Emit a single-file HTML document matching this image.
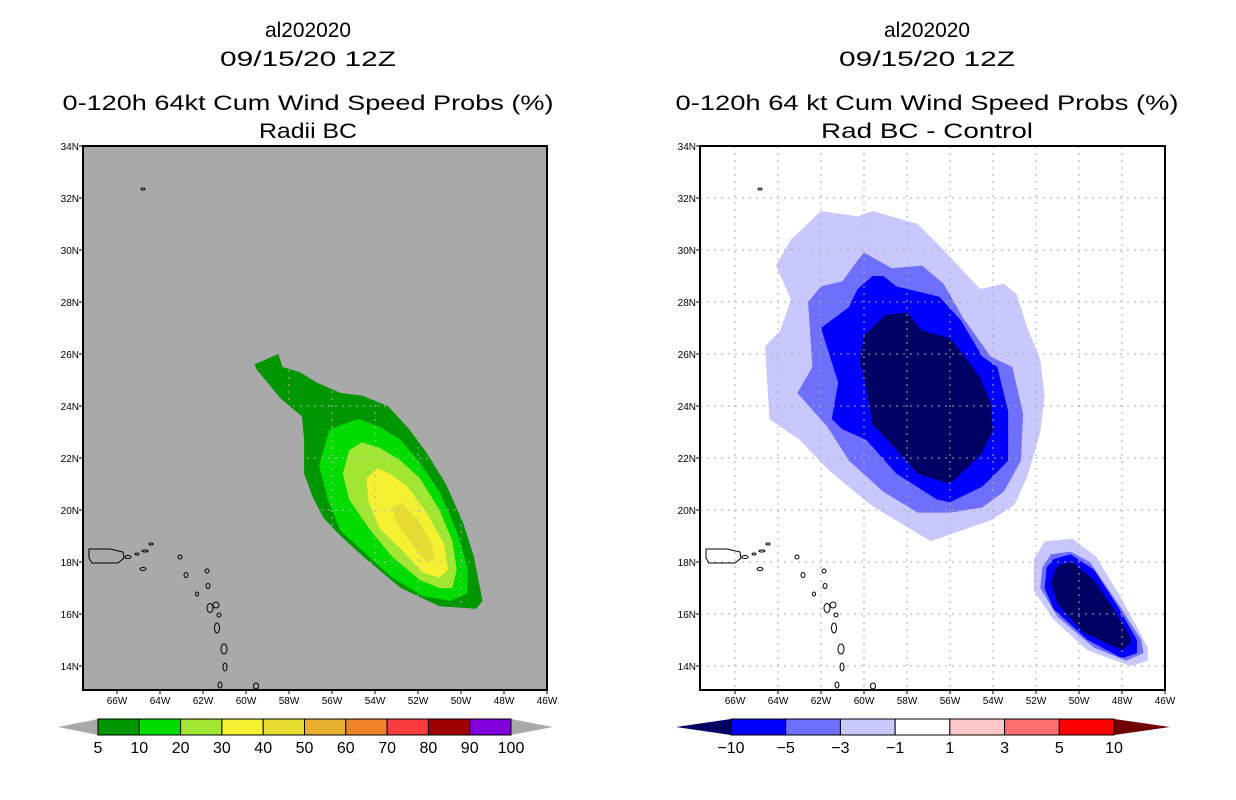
<!DOCTYPE html>
<html><head><meta charset="utf-8">
<style>
html,body{margin:0;padding:0;background:#fff;}
svg{display:block;font-family:"Liberation Sans",sans-serif;}
</style></head>
<body>
<svg id="c" width="1236" height="800" viewBox="0 0 1236 800" xmlns="http://www.w3.org/2000/svg"></svg>
<script>
// ---- data: contour polygons as [lonW, latN]
const leftLevels = ["5","10","20","30","40"];
const leftColors = ["#009600","#00dc00","#a0e632","#f5f032","#e6dc32"];
const left5 = [[59.6,25.6],[58.5,26.0],[58.3,25.5],[57.5,25.3],[56.7,24.9],[55.6,24.5],[54.6,24.4],[53.4,24.0],[52.4,23.1],[51.6,22.2],[50.7,21.0],[49.9,19.5],[49.4,18.2],[49.0,16.5],[49.3,16.2],[51.0,16.3],[52.8,17.0],[54.4,18.1],[55.6,19.0],[56.4,19.7],[56.9,20.5],[57.3,21.4],[57.3,22.7],[57.4,23.6],[58.4,24.3],[59.5,25.4]];
const left10 = [[56.1,23.1],[54.8,23.5],[53.8,23.2],[52.8,22.7],[51.9,21.8],[51.0,20.7],[50.2,19.2],[49.7,17.8],[49.7,16.8],[50.5,16.5],[51.8,16.7],[53.2,17.4],[54.4,18.3],[55.6,19.2],[56.2,20.4],[56.6,21.7],[56.3,22.6]];
const left20 = [[55.2,22.3],[54.6,22.6],[53.8,22.4],[52.8,21.9],[51.9,21.2],[51.0,20.0],[50.4,18.8],[50.2,17.7],[50.4,17.0],[51.0,17.0],[51.9,17.3],[53.2,18.2],[54.2,19.2],[55.2,20.4],[55.5,21.4]];
const left30 = [[54.4,21.2],[53.9,21.6],[53.3,21.4],[52.5,20.9],[51.6,19.9],[50.8,18.7],[50.6,17.7],[51.0,17.4],[51.8,17.6],[52.8,18.5],[53.8,19.3],[54.3,20.3]];
const left40 = [[53.2,20.1],[52.8,20.3],[52.0,19.6],[51.4,18.8],[51.2,18.1],[51.6,18.0],[52.2,18.6],[53.0,19.5]];

const rightLevels = ["-1","-3","-5","-10"];
const rightColors = ["#c8c8ff","#6e6eff","#0000ff","#000064"];
const rightA1 = [[62.0,31.5],[60.3,31.3],[59.6,31.5],[57.5,31.0],[56.3,30.0],[54.6,28.5],[53.5,28.7],[52.9,28.3],[52.4,27.0],[51.8,25.8],[51.6,24.4],[51.8,23.0],[52.4,21.3],[53.0,20.2],[54.1,19.6],[55.5,19.2],[56.9,18.8],[58.1,19.4],[59.7,20.2],[61.6,21.5],[63.0,22.7],[64.4,23.5],[64.6,26.3],[63.9,26.9],[63.4,28.1],[64.1,29.4],[63.4,30.4]];
const rightA3 = [[60.0,29.9],[58.7,29.3],[57.3,29.4],[56.3,28.7],[55.4,27.4],[54.1,25.9],[53.1,25.5],[52.6,23.7],[52.7,21.9],[53.5,20.7],[54.5,20.1],[56.0,19.9],[57.5,19.9],[59.1,20.7],[60.7,21.9],[61.7,23.2],[63.1,24.5],[62.4,25.5],[62.6,28.0],[62.0,28.6],[61.0,28.8],[60.3,29.6]];
const rightA5 = [[59.6,29.0],[59.1,29.0],[58.5,28.6],[56.5,28.2],[55.5,27.3],[54.5,25.9],[53.8,25.5],[53.3,23.8],[53.3,21.9],[54.0,21.3],[54.5,20.9],[56.0,20.3],[56.6,20.4],[58.5,21.4],[59.9,22.7],[61.0,23.1],[61.5,23.5],[61.2,24.9],[62.0,27.0],[60.7,27.8],[60.3,28.5]];
const rightA10 = [[59.0,27.5],[58.0,27.6],[57.3,26.9],[56.0,26.6],[55.4,26.0],[54.6,25.1],[54.1,24.1],[54.0,23.1],[54.5,22.2],[55.1,21.7],[56.0,21.0],[57.5,21.4],[58.8,22.6],[59.6,23.3],[59.9,24.7],[60.2,25.8],[60.0,26.7]];
const rightB1 = [[51.6,18.8],[50.3,18.9],[49.2,18.2],[48.1,16.7],[47.3,15.5],[46.8,14.7],[46.8,14.2],[47.6,14.0],[49.6,14.6],[51.2,15.8],[52.1,16.9],[52.1,18.1]];
const rightB3 = [[51.3,18.3],[50.4,18.4],[49.5,18.0],[48.1,16.3],[47.1,15.0],[47.0,14.5],[47.8,14.2],[49.3,14.7],[51.0,15.9],[51.8,17.0],[51.7,17.8]];
const rightB5 = [[51.2,18.1],[50.4,18.3],[49.3,17.7],[48.2,16.3],[47.3,15.0],[47.3,14.5],[48.0,14.3],[49.6,15.0],[51.2,16.2],[51.6,17.0],[51.5,17.8]];
const rightB10 = [[50.9,17.9],[50.3,18.0],[49.3,17.3],[48.4,16.2],[47.6,15.1],[47.6,14.9],[48.0,14.6],[49.8,15.3],[51.0,16.4],[51.3,17.2],[51.1,17.7]];

const lonTicks = [66,64,62,60,58,56,54,52,50,48,46];
const latTicks = [34,32,30,28,26,24,22,20,18,16,14];
const leftBarLabels = ["5","10","20","30","40","50","60","70","80","90","100"];
const leftBarColors = ["#009600","#00dc00","#a0e632","#f5f032","#e6dc32","#e6af2d","#f08228","#fa3c3c","#a00000","#8200dc"];
const rightBarLabels = ["-10","-5","-3","-1","1","3","5","10"];
const rightBarColors = ["#0000ff","#6e6eff","#c8c8ff","#ffffff","#ffc8c8","#ff6e6e","#ff0000"];

const NS="http://www.w3.org/2000/svg";
const svg=document.getElementById('c');
function mk(tag,attrs,parent){const e=document.createElementNS(NS,tag);for(const k in attrs)e.setAttribute(k,attrs[k]);(parent||svg).appendChild(e);return e;}

const TOP=146,BOT=690,PXLAT=26,PXLON=21.5;
function panel(x0,x1){return {x0,x1,fx:lon=>x1-(lon-46)*PXLON,fy:lat=>TOP+(34-lat)*PXLAT};}
const P1=panel(83,547), P2=panel(700,1165);

function pathD(P,pts){return pts.map((p,i)=>(i?'L':'M')+P.fx(p[0]).toFixed(1)+' '+P.fy(p[1]).toFixed(1)).join(' ')+'Z';}
function poly(P,pts,fill,name,g){
  const e=mk('path',{d:pathD(P,pts),fill},g);
  
  
}
function txt(x,y,s,size,anchor,name,len){
  const e=mk('text',{x,y,'font-size':size,'text-anchor':anchor||'middle',fill:'#000'});
  if(len){e.setAttribute('textLength',len);e.setAttribute('lengthAdjust','spacingAndGlyphs');}
  e.textContent=s;
  
  
  return e;
}
function drawIslands(P,g){
  const dx=P.x0-83;
  const pr=mk('path',{d:'M'+(89+dx)+' 549 L'+(110+dx)+' 549 L'+(123+dx)+' 552 L'+(124+dx)+' 558 L'+(118+dx)+' 563 L'+(92+dx)+' 563 L'+(89+dx)+' 558 Z',fill:'none',stroke:'#000','stroke-width':1},g);
  
  
  const small=[[128,557,3,1.5],[137,554,2,1],[145,551,3,1],[151,544,2,1],[143,569,3,1.5],[180,557,2,2],[186,575,2,2.5],[207,571,2,2],[197,594,1.5,2],[208,586,2,2.5],[210,608,3,4.5],[216,605,3,3],[219,615,2,2],[217,628,2.5,5],[224,649,3,5],[225,667,2,4],[220,685,2,3],[256,686,2.5,3],[143,189,2,1]];
  small.forEach(s=>{
    const e=mk('ellipse',{cx:s[0]+dx,cy:s[1],rx:s[2],ry:s[3],fill:'none',stroke:'#000','stroke-width':1},g);
    
    
  });
}

function drawPanel(P,bg,gridColor,layers,titleLines,name,gridClipPts){
  const g=mk('g',{});
  
  
  const clipId='clip'+P.x0;
  const cp=mk('clipPath',{id:clipId},g);
  mk('rect',{x:P.x0,y:TOP,width:P.x1-P.x0,height:BOT-TOP},cp);
  const bgr=mk('rect',{x:P.x0,y:TOP,width:P.x1-P.x0,height:BOT-TOP,fill:bg},g);
  
  
  const inner=mk('g',{'clip-path':'url(#'+clipId+')'},g);
  layers.forEach(l=>poly(P,l[0],l[1],l[2],inner));
  let gridG=inner;
  if(gridClipPts){
    const gid='gclip'+P.x0;
    const gc=mk('clipPath',{id:gid},g);
    mk('path',{d:pathD(P,gridClipPts)},gc);
    gridG=mk('g',{'clip-path':'url(#'+gid+')'},inner);
  }
  lonTicks.forEach(lon=>{const x=P.fx(lon);
    const e=mk('line',{x1:x,x2:x,y1:TOP,y2:BOT,stroke:gridColor,'stroke-width':1,'stroke-dasharray':'2,5'},gridG);
    
    });
  latTicks.forEach(lat=>{const y=P.fy(lat);
    const e=mk('line',{x1:P.x0,x2:P.x1,y1:y,y2:y,stroke:gridColor,'stroke-width':1,'stroke-dasharray':'2,5'},gridG);
    
    });
  drawIslands(P,inner);
  const fr=mk('rect',{x:P.x0,y:TOP,width:P.x1-P.x0,height:BOT-TOP,fill:'none',stroke:'#000','stroke-width':2},g);
  
  
  lonTicks.forEach(lon=>{const x=P.fx(lon);
    mk('line',{x1:x,x2:x,y1:BOT,y2:BOT+4,stroke:'#000'},g);
    txt(x,BOT+14,lon+'W',10,'middle','x-tick-label');});
  latTicks.forEach(lat=>{const y=P.fy(lat);
    mk('line',{x1:P.x0-4,x2:P.x0,y1:y,y2:y,stroke:'#000'},g);
    txt(P.x0-4,y+4,lat+'N',10,'end','y-tick-label');});
  titleLines.forEach(t=>txt(t[0],t[1],t[2],21,'middle',t[3],t[4]));
}

drawPanel(P1,'#a9a9a9','#b4b4b4',[[left5,leftColors[0],'contour-5'],[left10,leftColors[1],'contour-10'],[left20,leftColors[2],'contour-20'],[left30,leftColors[3],'contour-30'],[left40,leftColors[4],'contour-40']],
 [[308,37,'al202020','storm-id-title',86],[308,66,'09/15/20 12Z','date-title',176],[308,110,'0-120h 64kt Cum Wind Speed Probs (%)','main-title',491],[308,138,'Radii BC','subtitle',98]],'left-map-panel',left5);
drawPanel(P2,'#ffffff','#a8a8a8',[[rightA1,rightColors[0],'contour-a-1'],[rightA3,rightColors[1],'contour-a-3'],[rightA5,rightColors[2],'contour-a-5'],[rightA10,rightColors[3],'contour-a-10'],[rightB1,rightColors[0],'contour-b-1'],[rightB3,rightColors[1],'contour-b-3'],[rightB5,rightColors[2],'contour-b-5'],[rightB10,rightColors[3],'contour-b-10']],
 [[927,37,'al202020','storm-id-title',86],[927,66,'09/15/20 12Z','date-title',176],[927,110,'0-120h 64 kt Cum Wind Speed Probs (%)','main-title',503],[927,138,'Rad BC - Control','subtitle',212]],'right-map-panel',null);

function colorbar(x0,x1,tipL,tipR,colors,labels,leftTip,rightTip,name){
  const g=mk('g',{});
  
  
  const y0=719,y1=735,ym=727,w=(x1-x0)/colors.length;
  const lt=mk('polygon',{points:`${tipL},${ym} ${x0},${y0} ${x0},${y1}`,fill:leftTip},g);
  
  
  const rt=mk('polygon',{points:`${tipR},${ym} ${x1},${y0} ${x1},${y1}`,fill:rightTip},g);
  
  
  colors.forEach((c,i)=>{
    const r=mk('rect',{x:x0+i*w,y:y0,width:w,height:y1-y0,fill:c,stroke:'#000','stroke-width':1},g);
    
    
  });
  labels.forEach((l,i)=>txt(x0+i*w,753,l.replace('-','\u2212'),16,'middle','colorbar-label'));
}
colorbar(98,511,58,553,leftBarColors,leftBarLabels,'#a9a9a9','#a9a9a9','left-colorbar');
colorbar(731,1114,676,1170,rightBarColors,rightBarLabels,'#000064','#6e0000','right-colorbar');
</script>
</body></html>
